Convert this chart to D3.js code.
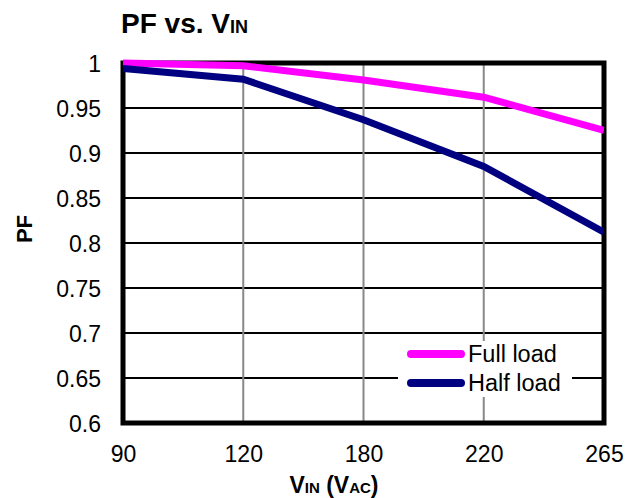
<!DOCTYPE html>
<html><head><meta charset="utf-8">
<script src="https://cdn.jsdelivr.net/npm/d3@7"></script>
<style>body{margin:0;background:#fff}svg{display:block}text{font-family:"Liberation Sans",Arial,sans-serif}</style>
</head><body>
<script>
const categories = ["90","120","180","220","265"];
const fullLoad = [1.0, 0.997, 0.981, 0.962, 0.925];
const halfLoad = [0.994, 0.982, 0.937, 0.885, 0.812];
const yTicks = [0.6,0.65,0.7,0.75,0.8,0.85,0.9,0.95,1];
const yTickLabels = ["0.6","0.65","0.7","0.75","0.8","0.85","0.9","0.95","1"];
const seriesNames = ["Full load","Half load"];
const seriesColors = ["#FF00FF","#000080"];

const W=637,H=498, L=123,R=604,T=63,B=423;
const svg=d3.select("body").append("svg").attr("width",W).attr("height",H);
const x=d3.scalePoint().domain(categories).range([L,R]);
const y=d3.scaleLinear().domain([0.6,1]).range([B,T]);

// horizontal gridlines
svg.append("g").selectAll("line").data(yTicks.slice(1,-1)).join("line")
  .attr("x1",L).attr("x2",R).attr("y1",d=>y(d)).attr("y2",d=>y(d))
  .attr("stroke","#000").attr("stroke-width",2);
// vertical gridlines
svg.append("g").selectAll("line").data(categories.slice(1,-1)).join("line")
  .attr("x1",d=>x(d)).attr("x2",d=>x(d)).attr("y1",T).attr("y2",B)
  .attr("stroke","#888").attr("stroke-width",2);

// axes labels via d3 axes
const yAxis=svg.append("g").attr("transform",`translate(${L-22},0)`)
  .call(d3.axisLeft(y).tickValues(yTicks).tickFormat((d,i)=>yTickLabels[i]).tickSize(0).tickPadding(0));
yAxis.select(".domain").remove();
yAxis.selectAll("text").attr("font-size",23).attr("fill","#000").attr("dy","0.35em")
  .attr("font-family","Liberation Sans, Arial, sans-serif");
const xAxis=svg.append("g").attr("transform",`translate(0,${B+22})`)
  .call(d3.axisBottom(x).tickSize(0).tickPadding(0));
xAxis.select(".domain").remove();
xAxis.selectAll("text").attr("font-size",23).attr("fill","#000").attr("dy","0.72em")
  .attr("font-family","Liberation Sans, Arial, sans-serif");

// border
svg.append("rect").attr("x",L).attr("y",T).attr("width",R-L).attr("height",B-T)
  .attr("fill","none").attr("stroke","#000").attr("stroke-width",5);

// clip
svg.append("clipPath").attr("id","clip").append("rect")
  .attr("x",L).attr("y",T-4).attr("width",R-L).attr("height",B-T+8);
const line=d3.line().x((d,i)=>x(categories[i])).y(d=>y(d));
[fullLoad,halfLoad].forEach((s,k)=>{
  svg.append("path").datum(s).attr("d",line).attr("fill","none")
    .attr("stroke",seriesColors[k]).attr("stroke-width",7).attr("clip-path","url(#clip)");
});

// legend
const lg=svg.append("g");
lg.append("rect").attr("x",398).attr("y",341).attr("width",174).attr("height",56).attr("fill","#fff");
seriesNames.forEach((n,k)=>{
  const yy=354+k*29;
  lg.append("line").attr("x1",411).attr("x2",461).attr("y1",yy).attr("y2",yy)
    .attr("stroke",seriesColors[k]).attr("stroke-width",8).attr("stroke-linecap","round");
  lg.append("text").attr("x",468).attr("y",yy+8).attr("font-size",23.5).text(n);
});

// title
const t=svg.append("text").attr("x",121).attr("y",33).attr("font-size",28).attr("font-weight","bold");
t.append("tspan").text("PF vs. V");
t.append("tspan").attr("font-size",18).attr("dy",0).text("IN");

// y title
svg.append("text").attr("transform","translate(32,229) rotate(-90)").attr("text-anchor","middle")
  .attr("font-size",22).attr("font-weight","bold").text("PF");

// x title
const xt=svg.append("text").attr("x",334).attr("y",493).attr("text-anchor","middle")
  .attr("font-size",23).attr("font-weight","bold");
xt.append("tspan").text("V");
xt.append("tspan").attr("font-size",15).text("IN");
xt.append("tspan").text(" (V");
xt.append("tspan").attr("font-size",15).text("AC");
xt.append("tspan").text(")");
</script>
</body></html>
